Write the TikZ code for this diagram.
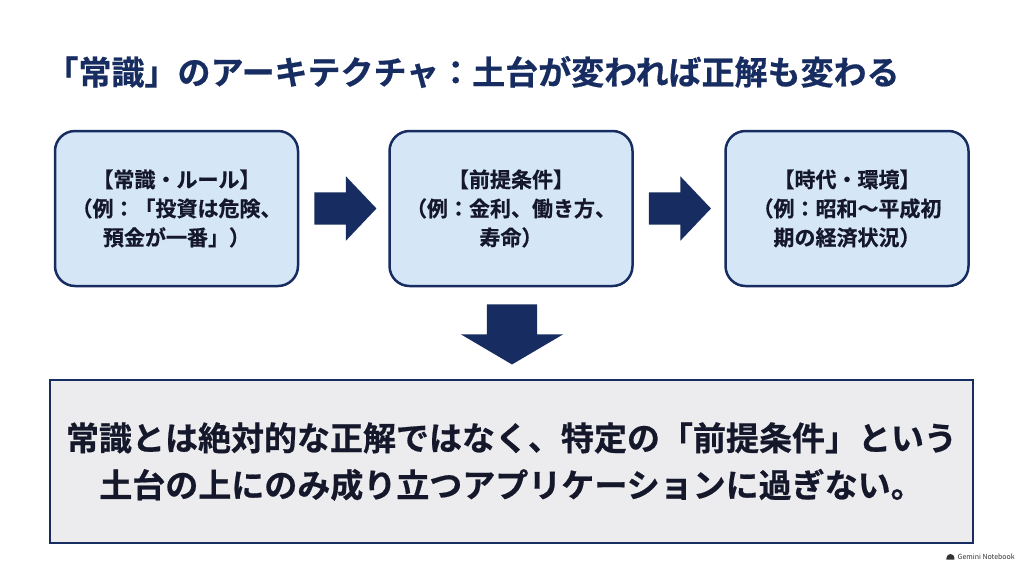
\documentclass[tikz,border=0pt]{standalone}
\usepackage{fontspec}
\setmainfont{Noto Sans CJK JP}[BoldFont={Noto Sans CJK JP Bold},BoldFeatures={FakeBold=0.6}]
\usetikzlibrary{shapes.arrows,calc}
\definecolor{navy}{HTML}{172C60}
\definecolor{boxblue}{HTML}{D5E7F6}
\definecolor{boxgray}{HTML}{ECECEF}
\definecolor{ink}{HTML}{15182A}
\tikzset{
  stage/.style={draw=navy,line width=2.5pt,fill=boxblue,rounded corners=20pt,
    minimum width=243pt,minimum height=155pt,align=center,text=ink,
    font=\bfseries\fontsize{21}{29}\selectfont},
  flowarrow/.style={single arrow,fill=navy,inner xsep=0pt,inner ysep=16pt,minimum height=62pt,
    minimum width=64pt,single arrow head extend=16pt,single arrow tip angle=93,anchor=tail}
}
\begin{document}
\begin{tikzpicture}[x=1pt,y=-1pt]
\useasboundingbox[fill=white] (0,0) rectangle (1024,571);
% title
\node[anchor=west,text=navy,font=\bfseries\fontsize{33}{40}\selectfont] (title) at (42,72)
  {「常識」のアーキテクチャ：土台が変われば正解も変わる};
% three stages
\node[stage] (rule) at (176.5,208.5) {【常識・ルール】\\（例：「投資は危険、\\預金が一番」）};
\node[stage] (premise) at (511,208.5) {【前提条件】\\（例：金利、働き方、\\寿命）};
\node[stage] (era) at (847,208.5) {【時代・環境】\\（例：昭和〜平成初\\期の経済状況）};
\node[flowarrow] (a1) at ($(rule.east)+(15,0)$) {};
\node[flowarrow] (a2) at ($(premise.east)+(15,0)$) {};
% conclusion
\node[draw=navy,line width=2.5pt,fill=boxgray,minimum width=923pt,minimum height=163pt,
  align=center,text=ink,font=\bfseries\fontsize{33}{47}\selectfont] (summary) at (511.5,461.5)
  {常識とは絶対的な正解ではなく、特定の「前提条件」という\\土台の上にのみ成り立つアプリケーションに過ぎない。};
\node[flowarrow,rotate=-90,inner ysep=25pt,minimum height=60pt,minimum width=102pt,
  single arrow head extend=26pt,single arrow tip angle=119] (down) at ($(premise.south)+(1,17)$) {};
% watermark
\node[anchor=east,font=\fontsize{7}{8}\selectfont,text=black!80,inner sep=0pt] (mark) at (1015,557) {Gemini Notebook};
\fill[black!80] ($(mark.west)+(-11,2.5)$) -- ++(0,-1.5) arc[start angle=180,end angle=360,radius=4] -- ++(0,1.5) -- cycle;
\end{tikzpicture}
\end{document}
